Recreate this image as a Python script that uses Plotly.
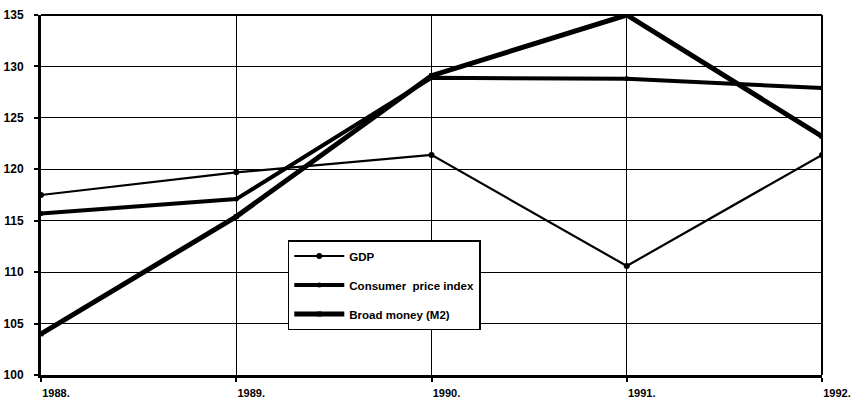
import plotly.graph_objects as go

years = [1988, 1989, 1990, 1991, 1992]
year_labels = ['1988.', '1989.', '1990.', '1991.', '1992.']

gdp = [117.5, 119.7, 121.4, 110.6, 121.4]
cpi = [115.7, 117.1, 128.9, 128.8, 127.9]
broad_money = [104.0, 115.4, 129.1, 135.0, 123.2]

y_ticks = [100, 105, 110, 115, 120, 125, 130, 135]

FONT = 'Liberation Sans, Arial'

fig = go.Figure()

fig.add_trace(go.Scatter(x=years, y=gdp, mode='lines+markers', name='<b>GDP</b>',
                         legendgroup='a',
                         line=dict(color='black', width=2.2),
                         marker=dict(color='black', size=6, symbol='circle')))
fig.add_trace(go.Scatter(x=years, y=cpi, mode='lines+markers', name='<b>Consumer  price index</b>',
                         legendgroup='b',
                         line=dict(color='black', width=4),
                         marker=dict(color='black', size=5, symbol='circle')))
fig.add_trace(go.Scatter(x=years, y=broad_money, mode='lines+markers', name='<b>Broad money (M2)</b>',
                         legendgroup='c',
                         line=dict(color='black', width=5),
                         marker=dict(color='black', size=5, symbol='square')))

# thin top / right frame
fig.add_shape(type='line', xref='paper', yref='paper', x0=0, x1=1, y0=1, y1=1,
              line=dict(color='black', width=2))
fig.add_shape(type='line', xref='paper', yref='paper', x0=1, x1=1, y0=0, y1=1,
              line=dict(color='black', width=2))

fig.update_xaxes(range=[1988, 1992], tickvals=years,
                 ticktext=[f'<b>{t}</b>' for t in year_labels],
                 ticklabelshift=15, ticklabelstandoff=2, automargin=False,
                 showgrid=True, gridcolor='black', gridwidth=1,
                 showline=True, linecolor='black', linewidth=3,
                 ticks='outside', ticklen=4, tickwidth=2, tickcolor='black',
                 zeroline=False, tickfont=dict(size=11, color='black', family=FONT))
fig.update_yaxes(range=[100, 135], tickvals=y_ticks,
                 ticktext=[f'<b>{t}</b>' for t in y_ticks],
                 ticklabelstandoff=8, automargin=False,
                 showgrid=True, gridcolor='black', gridwidth=1,
                 showline=True, linecolor='black', linewidth=3,
                 ticks='outside', ticklen=4, tickwidth=2, tickcolor='black',
                 zeroline=False, tickfont=dict(size=12, color='black', family=FONT))

fig.update_layout(
    width=856, height=406,
    paper_bgcolor='white', plot_bgcolor='white',
    font=dict(family=FONT, size=11, color='black'),
    margin=dict(l=41, r=34, t=15, b=31),
    legend=dict(x=0.316, y=0.375, xanchor='left', yanchor='top',
                bgcolor='white', bordercolor='black', borderwidth=1.5,
                font=dict(size=11.5, family=FONT), tracegroupgap=10,
                itemwidth=50),
)

# drop the default page margin so the figure sits at the window corner
fig.write_html("out.html", config={'displayModeBar': False},
               post_script="document.body.style.margin='0';")
